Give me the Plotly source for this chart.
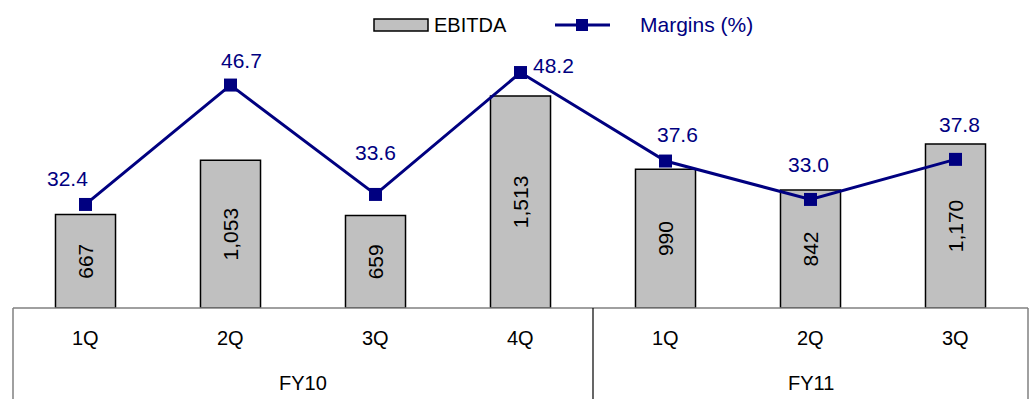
import plotly.graph_objects as go

quarters = ["1Q", "2Q", "3Q", "4Q", "1Q", "2Q", "3Q"]
fiscal_years = ["FY10", "FY11"]
fy_sizes = [4, 3]
ebitda = [667, 1053, 659, 1513, 990, 842, 1170]
margins = [32.4, 46.7, 33.6, 48.2, 37.6, 33.0, 37.8]

# label offsets (pixels) for margin labels: (dx, dy up)
label_offsets = [(-18, 26), (11, 25), (0, 42), (33, 7), (12, 27), (-2, 35), (4, 35)]

W, H = 1036, 399
ML, MR, MT, MB = 13, 8, 40, 91
PW, PH = W - ML - MR, H - MT - MB
FONT = "Liberation Sans, Arial, sans-serif"
NAVY = "#000080"

def px(x):
    return (x - ML) / PW

def py(y):
    return (H - MB - y) / PH

x = list(range(len(quarters)))

fig = go.Figure()
fig.add_trace(go.Bar(
    x=x, y=ebitda, width=0.414,
    marker=dict(color="#C0C0C0", line=dict(color="#000000", width=1.5)),
    text=[f"{v:,}" for v in ebitda], textposition="inside",
    insidetextanchor="middle", textangle=-90,
    textfont=dict(family=FONT, size=21, color="#000000"),
    name="EBITDA", showlegend=False, cliponaxis=False,
))
fig.add_trace(go.Scatter(
    x=x, y=margins, yaxis="y2", mode="lines+markers",
    line=dict(color=NAVY, width=3),
    marker=dict(symbol="square", size=13, color=NAVY),
    name="Margins (%)", showlegend=False, cliponaxis=False,
))

annotations = []
for i, (m, (dx, dy)) in enumerate(zip(margins, label_offsets)):
    annotations.append(dict(
        x=i, y=m, xref="x", yref="y2", text=f"{m:.1f}", showarrow=False,
        xshift=dx, yshift=dy, xanchor="center", yanchor="middle",
        font=dict(family=FONT, size=21, color=NAVY)))
for i, q in enumerate(quarters):
    annotations.append(dict(
        x=i, y=0, xref="x", yref="paper", text=q, showarrow=False,
        yshift=-30, yanchor="middle", font=dict(family=FONT, size=20, color="#000000")))
start = 0
for fy, n in zip(fiscal_years, fy_sizes):
    annotations.append(dict(
        x=start + (n - 1) / 2, y=0, xref="x", yref="paper", text=fy, showarrow=False,
        yshift=-75, yanchor="middle", font=dict(family=FONT, size=20, color="#000000")))
    start += n

# legend
annotations.append(dict(x=px(432), y=py(25), xref="paper", yref="paper", text="EBITDA",
                        showarrow=False, xanchor="left", yanchor="middle",
                        font=dict(family=FONT, size=20, color="#000000")))
annotations.append(dict(x=px(638), y=py(25), xref="paper", yref="paper", text="Margins (%)",
                        showarrow=False, xanchor="left", yanchor="middle",
                        font=dict(family=FONT, size=21, color=NAVY)))

shapes = []
gray = "#808080"
bot = py(H + 5)
shapes.append(dict(type="line", xref="paper", yref="paper", x0=0, x1=1, y0=0, y1=0,
                   line=dict(color=gray, width=1.5)))
shapes.append(dict(type="line", xref="paper", yref="paper", x0=0, x1=0, y0=0, y1=bot,
                   line=dict(color=gray, width=1.5)))
shapes.append(dict(type="line", xref="paper", yref="paper", x0=1, x1=1, y0=0, y1=bot,
                   line=dict(color=gray, width=1.5)))
shapes.append(dict(type="line", xref="x", yref="paper", x0=fy_sizes[0] - 0.5, x1=fy_sizes[0] - 0.5,
                   y0=0, y1=bot, line=dict(color="#000000", width=1.2)))
# legend symbols
shapes.append(dict(type="rect", xref="paper", yref="paper", x0=px(374), x1=px(428),
                   y0=py(31), y1=py(19), fillcolor="#C0C0C0", line=dict(color="#000000", width=1.5)))
shapes.append(dict(type="line", xref="paper", yref="paper", x0=px(555), x1=px(610),
                   y0=py(25), y1=py(25), line=dict(color=NAVY, width=3)))
shapes.append(dict(type="rect", xref="paper", yref="paper", x0=px(576), x1=px(588),
                   y0=py(31), y1=py(19), fillcolor=NAVY, line=dict(color=NAVY, width=0)))

fig.update_layout(
    width=W, height=H,
    margin=dict(l=ML, r=MR, t=MT, b=MB, pad=0),
    paper_bgcolor="white", plot_bgcolor="white",
    showlegend=False,
    xaxis=dict(range=[-0.5, len(quarters) - 0.5], showticklabels=False, showgrid=False,
               zeroline=False, showline=False, ticks=""),
    yaxis=dict(range=[0, PH / 0.1402], visible=False, showgrid=False, zeroline=False),
    yaxis2=dict(range=[20, 20 + PH / 8.35], overlaying="y", side="right", visible=False,
                showgrid=False, zeroline=False),
    annotations=annotations, shapes=shapes,
    font=dict(family=FONT),
)

fig.write_html("out.html")
